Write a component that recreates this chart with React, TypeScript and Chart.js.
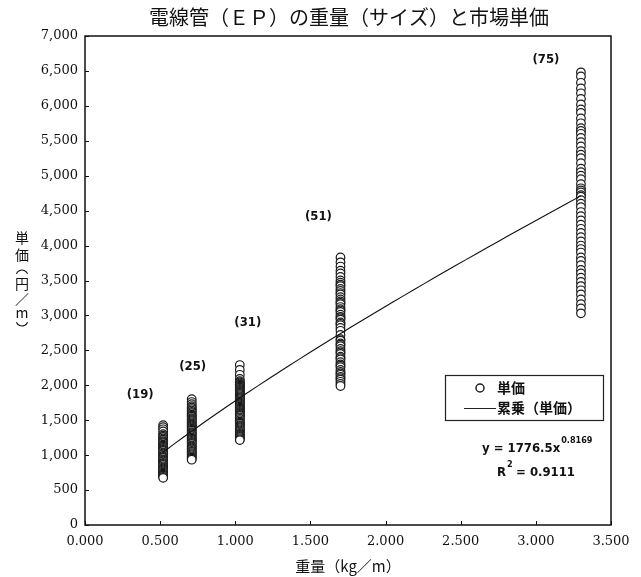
import React, { useEffect, useRef } from "react";
import { Chart, registerables } from "chart.js";

Chart.register(...registerables);

// ---- text ----
const TITLE = "電線管（ＥＰ）の重量（サイズ）と市場単価";
const X_TITLE = "重量（kg／m）";
// vertical y title; the brackets are drawn as arcs
const Y_TITLE_CHARS = ["単", "価", "（", "円", "／", "m", "）"];
const LEGEND_POINTS = "単価";
const LEGEND_TREND = "累乗（単価）";

// ---- data ----
const SIZE_LABELS = ["(19)", "(25)", "(31)", "(51)", "(75)"];
const WEIGHTS = [0.52, 0.71, 1.03, 1.7, 3.3]; // kg/m for each conduit size

const PRICES_19 = [
  1430, 1400, 1370, 1340, 1300, 1280, 1260, 1240, 1220, 1200, 1185, 1170, 1150, 1135,
  1120, 1105, 1090, 1075, 1060, 1040, 1025, 1010, 990, 975, 960, 940, 925, 910, 890,
  875, 860, 840, 825, 810, 795, 780, 765, 750, 735, 720, 705, 690, 675,
];
const PRICES_25 = [
  1800, 1760, 1730, 1700, 1680, 1660, 1640, 1620, 1600, 1580, 1565, 1550, 1530, 1515,
  1500, 1485, 1470, 1455, 1440, 1425, 1410, 1395, 1380, 1365, 1350, 1330, 1315, 1300,
  1285, 1270, 1250, 1235, 1220, 1205, 1190, 1175, 1160, 1140, 1125, 1110, 1095, 1080,
  1060, 1045, 1030, 1015, 1000, 980, 965, 950, 935,
];
const PRICES_31 = [
  2290, 2220, 2150, 2090, 2060, 2040, 2025, 2010, 1995, 1980, 1965, 1950, 1935, 1920,
  1905, 1890, 1875, 1860, 1845, 1830, 1815, 1800, 1785, 1770, 1755, 1740, 1725, 1710,
  1695, 1680, 1665, 1650, 1635, 1620, 1605, 1590, 1575, 1560, 1540, 1520, 1500, 1480,
  1465, 1450, 1430, 1415, 1400, 1385, 1370, 1355, 1340, 1320, 1305, 1290, 1275, 1260,
  1245, 1230, 1215,
];
const PRICES_51 = [
  3830, 3760, 3700, 3640, 3600, 3550, 3500, 3470, 3440, 3420, 3380, 3350, 3320, 3300,
  3260, 3230, 3200, 3180, 3160, 3120, 3090, 3070, 3050, 3010, 2980, 2960, 2940, 2900,
  2880, 2860, 2820, 2780, 2720, 2660, 2640, 2600, 2580, 2560, 2520, 2490, 2470, 2450,
  2410, 2390, 2370, 2330, 2300, 2280, 2260, 2220, 2190, 2170, 2150, 2120, 2100, 2080,
  2050, 2020, 1990,
];
const PRICES_75 = [
  6480, 6420, 6330, 6250, 6180, 6100, 6020, 5950, 5900, 5820, 5750, 5680, 5640, 5600,
  5540, 5480, 5420, 5350, 5300, 5250, 5180, 5100, 5050, 5000, 4950, 4880, 4820, 4790,
  4760, 4720, 4700, 4650, 4600, 4550, 4480, 4420, 4360, 4300, 4240, 4180, 4120, 4060,
  4000, 3950, 3900, 3830, 3780, 3720, 3650, 3600, 3540, 3480, 3420, 3360, 3300, 3230,
  3160, 3100, 3030,
];
const PRICE_GROUPS = [PRICES_19, PRICES_25, PRICES_31, PRICES_51, PRICES_75];

// power trend line  y = A * x^B
const TREND_A = 1776.5;
const TREND_B = 0.8169;
const TREND_R2 = 0.9111;

const X_TICK_STEP = 0.5;
const Y_TICK_STEP = 500;

// ---- layout (pixels) ----
const W = 641;
const H = 577;
const AREA = { left: 85, top: 36, right: 611, bottom: 525 };
// offsets of the size labels from the top point of each column
const SIZE_LABEL_OFFSETS = [
  [-23, -30],
  [1, -33],
  [8, -42],
  [-22, -41],
  [-35, -13],
];

const SERIF = '"DejaVu Serif", "Liberation Serif", serif';
const JP = '"Noto Sans CJK JP", sans-serif';
const NARROW = '"Liberation Sans Narrow", "DejaVu Sans Condensed", "Liberation Sans", sans-serif';

const scatterPoints = PRICE_GROUPS.flatMap((group, i) =>
  group.map((p) => ({ x: WEIGHTS[i], y: p }))
);

const trendStart = WEIGHTS[0];
const trendEnd = WEIGHTS[WEIGHTS.length - 1];
const trendPoints = Array.from({ length: 41 }, (_, k) => {
  const x = trendStart + ((trendEnd - trendStart) * k) / 40;
  return { x, y: TREND_A * Math.pow(x, TREND_B) };
});

const decorations = {
  id: "decorations",
  afterDraw(chart: any) {
    const { ctx, chartArea: a, scales } = chart;
    const xs = scales.x;
    const ys = scales.y;
    ctx.save();

    // frame
    ctx.strokeStyle = "#111";
    ctx.lineWidth = 1.5;
    ctx.strokeRect(a.left, a.top, a.right - a.left, a.bottom - a.top);

    // inward tick marks
    ctx.lineWidth = 1;
    ctx.beginPath();
    ys.ticks.forEach((t: any) => {
      const py = Math.round(ys.getPixelForValue(t.value)) + 0.5;
      ctx.moveTo(a.left, py);
      ctx.lineTo(a.left + 4, py);
    });
    xs.ticks.forEach((t: any) => {
      const px = Math.round(xs.getPixelForValue(t.value)) + 0.5;
      ctx.moveTo(px, a.bottom);
      ctx.lineTo(px, a.bottom - 4);
    });
    ctx.stroke();

    ctx.fillStyle = "#111";

    // title
    ctx.font = `20px ${JP}`;
    ctx.textAlign = "center";
    ctx.textBaseline = "middle";
    ctx.fillText(TITLE, 349, 17);

    // x axis title
    ctx.font = `15px ${JP}`;
    ctx.fillText(X_TITLE, 348, 566);

    // y axis title, written vertically
    ctx.font = `14px ${JP}`;
    const yTitleY = [238, 255, 271, 284, 299, 313, 325];
    Y_TITLE_CHARS.forEach((ch, i) => {
      const cy = yTitleY[i];
      if (ch === "（") {
        ctx.beginPath();
        ctx.lineWidth = 1.1;
        ctx.arc(22, cy + 5, 6, Math.PI * 1.12, Math.PI * 1.88);
        ctx.stroke();
      } else if (ch === "）") {
        ctx.beginPath();
        ctx.lineWidth = 1.1;
        ctx.arc(22, cy - 5, 6, Math.PI * 0.12, Math.PI * 0.88);
        ctx.stroke();
      } else {
        ctx.fillText(ch, 22, cy);
      }
    });

    // size labels above each column
    ctx.font = `bold 13px ${NARROW}`;
    PRICE_GROUPS.forEach((group, i) => {
      const top = Math.max(...group);
      const px = xs.getPixelForValue(WEIGHTS[i]) + SIZE_LABEL_OFFSETS[i][0];
      const py = ys.getPixelForValue(top) + SIZE_LABEL_OFFSETS[i][1];
      ctx.fillText(SIZE_LABELS[i], px, py);
    });

    // legend
    ctx.strokeStyle = "#222";
    ctx.lineWidth = 1.2;
    ctx.fillStyle = "#fff";
    ctx.fillRect(445, 375, 159, 46);
    ctx.strokeRect(445.5, 375.5, 158, 45);
    ctx.fillStyle = "#111";
    ctx.beginPath();
    ctx.arc(480, 388, 4, 0, Math.PI * 2);
    ctx.lineWidth = 1.5;
    ctx.stroke();
    ctx.beginPath();
    ctx.lineWidth = 1;
    ctx.moveTo(464, 408.5);
    ctx.lineTo(496, 408.5);
    ctx.stroke();
    ctx.font = `bold 14px ${JP}`;
    ctx.textAlign = "left";
    ctx.fillText(LEGEND_POINTS, 497, 388);
    ctx.fillText(LEGEND_TREND, 497, 408);

    // equation
    ctx.font = `bold 13px ${NARROW}`;
    ctx.textBaseline = "alphabetic";
    const eq = `y = ${TREND_A}x`;
    ctx.fillText(eq, 482, 452);
    const eqW = ctx.measureText(eq).width;
    ctx.font = `bold 9px ${NARROW}`;
    ctx.fillText(TREND_B.toFixed(4), 482 + eqW + 1, 443);
    ctx.font = `bold 13px ${NARROW}`;
    ctx.fillText("R", 497, 476);
    const rW = ctx.measureText("R").width;
    ctx.font = `bold 9px ${NARROW}`;
    ctx.fillText("2", 497 + rW + 1, 467);
    ctx.font = `bold 13px ${NARROW}`;
    ctx.fillText(`= ${TREND_R2.toFixed(4)}`, 497 + rW + 10, 476);

    ctx.restore();
  },
};

export default function App() {
  const canvasRef = useRef<HTMLCanvasElement | null>(null);

  useEffect(() => {
    const canvas = canvasRef.current;
    if (!canvas) return;
    const chart = new Chart(canvas, {
      type: "scatter",
      data: {
        datasets: [
          {
            type: "line",
            label: LEGEND_TREND,
            data: trendPoints,
            borderColor: "#111",
            borderWidth: 1.1,
            pointRadius: 0,
            fill: false,
            tension: 0,
          },
          {
            type: "scatter",
            label: LEGEND_POINTS,
            data: scatterPoints,
            pointRadius: 4.3,
            pointBorderWidth: 1.2,
            pointBackgroundColor: "#fff",
            pointBorderColor: "#1a1a1a",
          },
        ],
      },
      options: {
        responsive: false,
        animation: false,
        events: [],
        layout: {
          padding: { left: 0, top: AREA.top, right: W - AREA.right, bottom: 0 },
        },
        plugins: {
          legend: { display: false },
          title: { display: false },
          tooltip: { enabled: false },
        },
        scales: {
          x: {
            type: "linear",
            min: 0,
            max: 3.5,
            afterFit: (s: any) => {
              s.height = H - AREA.bottom;
            },
            grid: { display: false, drawTicks: false },
            border: { display: false },
            ticks: {
              stepSize: X_TICK_STEP,
              padding: 9,
              color: "#111",
              font: { family: SERIF, size: 13 },
              callback: (v: any) => Number(v).toFixed(3),
            },
          },
          y: {
            type: "linear",
            min: 0,
            max: 7000,
            afterFit: (s: any) => {
              s.width = AREA.left;
            },
            grid: { display: false, drawTicks: false },
            border: { display: false },
            ticks: {
              stepSize: Y_TICK_STEP,
              padding: 7,
              color: "#111",
              font: { family: SERIF, size: 13 },
              callback: (v: any) => Number(v).toLocaleString("en-US"),
            },
          },
        },
      },
      plugins: [decorations],
    });
    return () => chart.destroy();
  }, []);

  return (
    <div style={{ position: "fixed", left: 0, top: 0, width: W, height: H, background: "#fff" }}>
      <canvas ref={canvasRef} width={W} height={H} style={{ display: "block" }} />
    </div>
  );
}
